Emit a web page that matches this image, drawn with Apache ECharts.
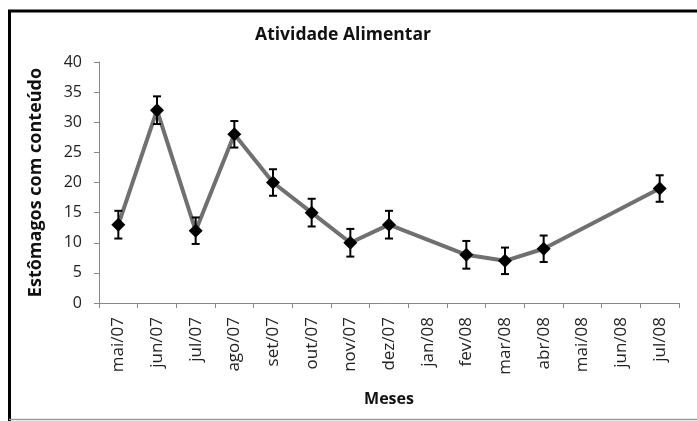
<!DOCTYPE html>
<html>
<head>
<meta charset="utf-8">
<script src="https://cdn.jsdelivr.net/npm/echarts@6/dist/echarts.min.js"></script>
<style>html,body{margin:0;padding:0;background:#fff;}#c{width:697px;height:421px;}</style>
</head>
<body>
<div id="c"></div>
<script>
const categories = ['mai/07','jun/07','jul/07','ago/07','set/07','out/07','nov/07','dez/07','jan/08','fev/08','mar/08','abr/08','mai/08','jun/08','jul/08'];
const values = [13, 32, 12, 28, 20, 15, 10, 13, null, 8, 7, 9, null, null, 19];
const errors = [2.3, 2.3, 2.2, 2.2, 2.2, 2.3, 2.3, 2.3, null, 2.3, 2.2, 2.2, null, null, 2.2];
const yTicks = {min: 0, max: 40, interval: 5};

const FONT = '"Open Sans", "Liberation Sans", sans-serif';
const errData = [];
values.forEach((v, i) => { if (v != null) errData.push([i, v - errors[i], v + errors[i]]); });

const chart = echarts.init(document.getElementById('c'), null, {renderer: 'canvas'});
chart.setOption({
  animation: false,
  backgroundColor: '#fff',
  title: {
    text: 'Atividade Alimentar', left: 338, top: 21, textAlign: 'center',
    textStyle: {fontFamily: FONT, fontSize: 17.5, fontWeight: 'bold', color: '#111'}
  },
  grid: {left: 99, right: 18, top: 62, bottom: 118},
  xAxis: {
    type: 'category', data: categories, boundaryGap: true,
    name: 'Meses', nameLocation: 'middle', nameGap: 88,
    nameTextStyle: {fontFamily: FONT, fontSize: 16, fontWeight: 'bold', color: '#111'},
    axisLine: {lineStyle: {color: '#888', width: 1}},
    axisTick: {show: true, length: 5, lineStyle: {color: '#888'}},
    axisLabel: {rotate: 90, margin: 14, fontFamily: FONT, fontSize: 17, color: '#222', interval: 0}
  },
  yAxis: {
    type: 'value', min: yTicks.min, max: yTicks.max, interval: yTicks.interval,
    name: 'Estômagos com conteúdo', nameLocation: 'middle', nameGap: 54, nameRotate: 90,
    nameTextStyle: {fontFamily: FONT, fontSize: 18, fontWeight: 'bold', color: '#111'},
    axisLine: {show: true, lineStyle: {color: '#888', width: 1}},
    axisTick: {show: true, length: 5, lineStyle: {color: '#888'}},
    splitLine: {show: false},
    axisLabel: {margin: 17, fontFamily: FONT, fontSize: 16, color: '#222'}
  },
  graphic: [
    {type: 'line', shape: {x1: 8, y1: 11, x2: 697, y2: 11}, style: {stroke: '#000', lineWidth: 3}, z: 100},
    {type: 'line', shape: {x1: 9.5, y1: 10, x2: 9.5, y2: 421}, style: {stroke: '#000', lineWidth: 3}, z: 100},
    {type: 'line', shape: {x1: 9, y1: 419.5, x2: 697, y2: 419.5}, style: {stroke: '#999', lineWidth: 1.5}, z: 100}
  ],
  series: [
    {
      type: 'line', data: values, connectNulls: true,
      lineStyle: {color: '#707070', width: 4},
      symbol: 'diamond', symbolSize: 14,
      itemStyle: {color: '#000'}, z: 3
    },
    {
      type: 'custom', data: errData, z: 4,
      renderItem: function (params, api) {
        const x = api.value(0);
        const lo = api.coord([x, api.value(1)]);
        const hi = api.coord([x, api.value(2)]);
        const w = 4;
        const st = {stroke: '#000', lineWidth: 2};
        return {type: 'group', children: [
          {type: 'line', shape: {x1: lo[0], y1: lo[1], x2: hi[0], y2: hi[1]}, style: st},
          {type: 'line', shape: {x1: hi[0] - w, y1: hi[1], x2: hi[0] + w, y2: hi[1]}, style: st},
          {type: 'line', shape: {x1: lo[0] - w, y1: lo[1], x2: lo[0] + w, y2: lo[1]}, style: st}
        ]};
      }
    }
  ]
});
</script>
</body>
</html>
